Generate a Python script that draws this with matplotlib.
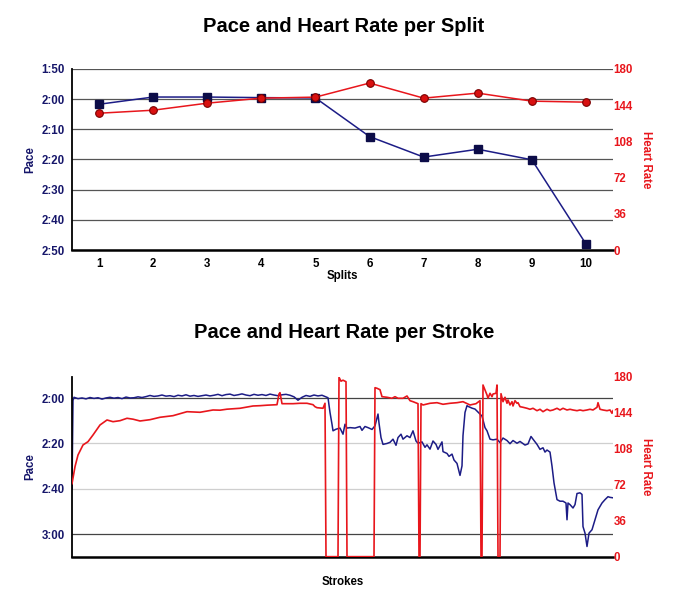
import matplotlib
matplotlib.use('Agg')
import matplotlib.pyplot as plt
import matplotlib.ticker as mtick

plt.rcParams['font.family'] = ['Liberation Sans', 'DejaVu Sans']
plt.rcParams['font.weight'] = 'bold'

NAVY = '#1c1c86'
NAVY_TXT = '#16166a'
RED = '#e8161c'

# --- per split data ---
splits = [1, 2, 3, 4, 5, 6, 7, 8, 9, 10]
split_pace = [121.7, 119.3, 119.3, 119.5, 119.6, 132.4, 139.2, 136.6, 140.1, 168.0]  # seconds / 500m
split_hr = [136, 139, 146, 151, 152, 166, 151, 156, 148, 147]

# --- per stroke data ---
stroke_pace_x = [0, 1, 2, 6, 10, 14, 18, 22, 26, 30, 34, 38, 42, 46, 50, 54, 58, 62, 66, 70,
                 74, 78, 82, 86, 90, 94, 98, 102, 106, 110, 114, 118, 122, 126, 130, 134, 138,
                 142, 146, 150, 154, 158, 162, 166, 170, 174, 178, 182, 186, 190, 194, 198, 202,
                 206, 210, 214, 218, 222, 226, 230, 234, 238, 242, 246, 250, 254,
                 256, 258, 260, 261, 264, 268, 271, 273, 275, 278, 283, 288, 290, 293, 296, 300,
                 303, 306, 307, 309, 311, 315, 318, 321, 324, 326, 329, 331, 335, 338, 341, 344,
                 346, 350, 353, 355, 358, 361, 364, 366, 370, 371, 375, 377, 380, 382, 385, 388,
                 390, 391, 393, 395, 396, 400, 403, 406, 410, 413, 415, 418, 421, 425, 428, 431,
                 435, 438, 441, 445, 448, 453, 456, 459, 461, 465, 468, 471, 473, 475, 478, 480,
                 482, 485, 488, 491, 494, 495, 496, 498, 501, 503, 505, 508, 510, 511, 513, 515,
                 517, 520, 523, 526, 530, 533, 536, 538, 541]
stroke_pace = [160.0, 121.0,
               119.6, 120.2, 119.9, 120.3, 119.7, 120.1, 119.8, 120.4, 119.9, 119.6,
               120.0, 119.7, 120.2, 119.5, 119.9, 119.8, 119.4, 119.7,
               119.3, 118.8, 119.2, 119.0, 118.6, 119.1, 118.9, 119.3, 118.7, 119.0, 118.5, 119.1,
               118.8, 119.2, 118.9, 118.6, 119.0,
               118.7, 118.3, 118.9, 118.4, 118.2, 118.8, 118.5, 118.1, 118.6, 118.9, 118.3, 118.7,
               118.4, 118.8, 118.2, 118.6, 118.9, 118.5, 118.3, 118.7, 119.4, 120.9, 119.6,
               118.8, 119.2, 118.6, 119.0, 118.7, 119.4,
               119.8, 126.3, 131.5, 134.4, 133.7, 133.2, 135.9, 131.5, 133.2, 133.0, 133.2, 132.5,
               134.2, 132.5, 133.0, 133.8, 132.2, 127.0, 131.0, 137.4, 140.4, 140.0, 139.5, 138.1,
               140.8, 137.4, 135.9, 138.1, 136.6, 137.4, 134.4, 138.9, 139.9, 139.3, 141.7, 140.6,
               142.5, 138.9, 140.4, 142.6, 139.3, 143.6, 144.4, 145.7, 144.7, 147.3, 148.8, 154.1,
               149.9, 136.5, 126.3, 123.3, 123.6, 124.4, 124.8, 126.1, 127.9, 133.0, 134.4, 138.1,
               138.4, 138.1, 139.6, 137.6, 138.7, 140.1, 138.7, 139.9, 139.1, 140.7, 140.2, 136.9,
               138.1, 140.4, 142.6, 141.9, 143.8, 142.9, 143.8, 150.0, 157.4, 164.8, 165.5, 165.5,
               166.3, 173.7, 166.3, 167.0, 168.5, 167.0, 162.1, 161.8, 162.5, 176.7, 179.6, 185.5,
               179.6, 178.1, 173.7, 169.3, 166.3, 164.8, 163.5, 163.8, 164.0]

stroke_hr_x = [0, 3, 6, 11, 16, 21, 28, 35, 41, 48, 55, 61, 68, 78, 88, 101, 115, 128, 141, 148,
               155, 168, 181, 188, 195, 205, 207, 208, 210, 221, 228, 235, 241, 243, 245, 251, 253,
               254, 266, 267, 269, 271, 274, 275, 302, 303, 305, 308, 310, 315, 320, 323, 326,
               331, 335, 338, 341, 345, 346, 347, 348, 349, 351, 358, 365, 371, 378, 385, 391,
               398, 404, 408, 409, 410, 411, 413, 415, 416, 418, 420, 421, 424, 425, 426, 428,
               429, 431, 433, 435, 436, 438, 440, 441, 443, 445, 446, 448, 451, 455, 458, 461,
               465, 468, 471, 475, 478, 481, 485, 488, 491, 495, 498, 501, 505, 508, 511, 515,
               518, 521, 525, 526, 528, 531, 535, 538, 540, 541]
stroke_hr = [73, 90, 101.7, 111.7, 115, 121.7, 131.7, 136.7, 135, 136, 138.4, 137.5, 135.7, 137,
             139.4, 141, 145, 144.4, 146.7, 146.5, 147.5, 148.4, 150.7, 151, 151.5, 152, 162.7,
             164, 153, 153, 153.4, 153.4, 152, 150, 149, 148.4, 153.4,
             0, 0, 179.4, 175.5, 176.5, 175, 0, 0, 169, 168.4, 167, 160, 159.4, 158.4, 160, 158.4,
             158.4, 160.7, 156, 155, 153.4, 153, 0, 0, 153, 151.7, 153.4, 154, 152.4, 153.4, 154,
             155, 151.7, 153, 156, 0, 0, 171.7, 166.7, 161.7, 158.4, 163.4, 160, 162.7, 163.4,
             171.7, 0, 0, 163, 155, 159.4, 153.4, 156.7, 151.7, 155, 150.7, 156, 153.4, 154, 150,
             149.4, 148.4, 147.4, 148.4, 146, 147.4, 145, 147.4, 146, 146.7, 148.4, 146.7, 148.4,
             146.7, 147.4, 146.7, 146, 146.7, 146, 146.7, 147.4, 146.7, 149.4, 154, 147.4, 146.7,
             146, 146.7, 143.4, 146]

pace_ticks_split = [110, 120, 130, 140, 150, 160, 170]
pace_ticks_stroke = [120, 140, 160, 180]
hr_ticks = [0, 36, 72, 108, 144, 180]


def mmss(v, pos=None):
    v = int(round(v))
    return '%d:%02d' % (v // 60, v % 60)


fig = plt.figure(figsize=(6.89, 6.12), dpi=100)

# ---------- top: per split ----------
ax = fig.add_axes([0.1045, 0.5915, 0.7852, 0.2958])
ax2 = ax.twinx()
ax.set_xlim(0.5, 10.5)
ax.set_ylim(170, 110)
ax.set_yticks(pace_ticks_split)
ax.yaxis.set_major_formatter(mtick.FuncFormatter(mmss))
ax.set_xticks(splits)
for y in pace_ticks_split:
    ax.axhline(y, color='#555555', lw=0.9, zorder=0)
ax.plot(splits, split_pace, color=NAVY, lw=1.1, marker='s', ms=5.5,
        mfc='#0c0c48', mec='#0c0c48', zorder=3)
ax2.set_ylim(0, 180)
ax2.set_yticks(hr_ticks)
ax2.plot(splits, split_hr, color=RED, lw=1.1, marker='o', ms=5.5,
         mfc='#d81010', mec='#7a0000', mew=0.8, zorder=3)

# ---------- bottom: per stroke ----------
bx = fig.add_axes([0.1045, 0.0904, 0.7852, 0.2941])
bx2 = bx.twinx()
bx.set_xlim(0, 541)
bx.set_ylim(190, 110.5)
bx.set_yticks(pace_ticks_stroke)
bx.yaxis.set_major_formatter(mtick.FuncFormatter(mmss))
bx.set_xticks([])
for y, c in zip(pace_ticks_stroke, ['#444444', '#cfcfcf', '#cfcfcf', '#444444']):
    bx.axhline(y, color=c, lw=0.9, zorder=0)
bx.plot(stroke_pace_x, stroke_pace, color=NAVY, lw=1.1, zorder=2)
bx2.set_ylim(0, 180)
bx2.set_yticks(hr_ticks)
bx2.plot(stroke_hr_x, stroke_hr, color=RED, lw=1.2, zorder=3)

for a, a2 in [(ax, ax2), (bx, bx2)]:
    for s in ['top', 'right']:
        a.spines[s].set_visible(False)
        a2.spines[s].set_visible(False)
    a2.spines['left'].set_visible(False)
    a2.spines['bottom'].set_visible(False)
    a.spines['left'].set_linewidth(1.3)
    a.spines['bottom'].set_linewidth(1.8)
    a.tick_params(axis='y', length=0, pad=5, labelsize=8.3, labelcolor=NAVY_TXT)
    a.tick_params(axis='x', length=0, pad=6, labelsize=8.3, labelcolor='black')
    a2.tick_params(axis='y', length=0, pad=0.5, labelsize=8.3, labelcolor=RED)
    a.set_ylabel('Pace', color=NAVY_TXT, fontsize=8.3, fontweight='bold', labelpad=4)
    a2.set_ylabel('Heart Rate', color=RED, fontsize=8.3, fontweight='bold',
                  rotation=270, va='bottom', labelpad=5)
    for lab in a.get_yticklabels() + a.get_xticklabels() + a2.get_yticklabels():
        lab.set_fontweight('bold')

ax.set_xlabel('Splits', fontsize=8.3, fontweight='bold', labelpad=0)
bx.set_xlabel('Strokes', fontsize=8.3, fontweight='bold', labelpad=14)

fig.text(0.499, 1 - 27 / 612, 'Pace and Heart Rate per Split', ha='center', va='center',
         fontsize=14.5, fontweight='bold')
fig.text(0.499, 1 - 332 / 612, 'Pace and Heart Rate per Stroke', ha='center', va='center',
         fontsize=14.5, fontweight='bold')

fig.savefig('out.png', dpi=100)
